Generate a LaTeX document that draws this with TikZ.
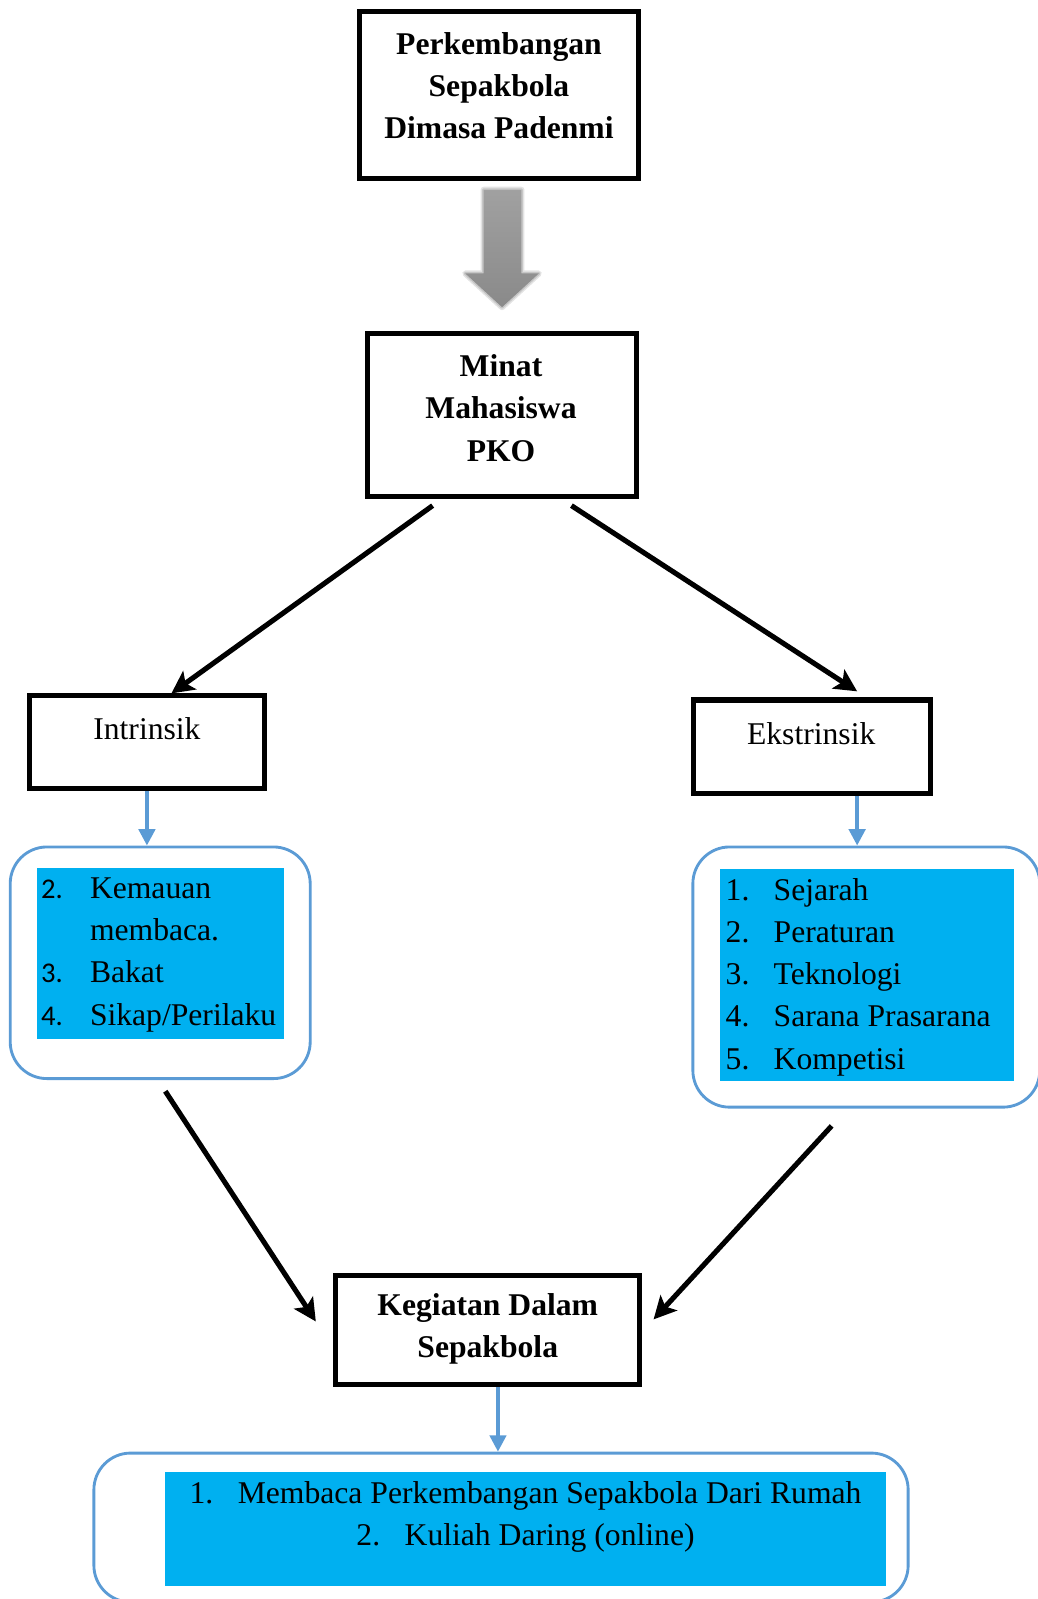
\documentclass[tikz,border=0pt]{standalone}
\usepackage{fontspec}
\setmainfont{Liberation Serif}
\newfontfamily\calfont{Carlito}
\usetikzlibrary{arrows.meta,calc}
\definecolor{outblue}{HTML}{5B9BD5}
\definecolor{cyanfill}{HTML}{00B0F0}
\begin{document}
\begin{tikzpicture}[x=1pt,y=-1pt,
  blkbox/.style={draw=black, line width=5pt, inner sep=0pt},
  blkarrow/.style={draw=black, line width=5pt, -{Stealth[length=22pt,width=22pt,inset=5pt]}},
  bluearrow/.style={draw=outblue, line width=3.5pt, -{Triangle[length=16pt,width=16pt]}},
  roundbox/.style={draw=outblue, line width=2.8pt, rounded corners=36pt, inner sep=0pt},
  fillbox/.style={fill=cyanfill, inner sep=0pt},
  bigtxt/.style={font=\fontsize{31}{41.5}\selectfont\bfseries, align=center, inner sep=0pt},
  smtxt/.style={font=\fontsize{31}{41.5}\selectfont, inner sep=0pt},
  numtxt/.style={font=\fontsize{28}{30}\selectfont\calfont, inner sep=0pt},
  ]
\useasboundingbox (0,0) rectangle (1017.24,1567.02);
\clip (0,0) rectangle (1017.24,1567.02);

% top box
\node[blkbox, minimum width=274pt, minimum height=164pt] (b1) at (489,93) {};
\node[bigtxt] (t1) at (489,84) {Perkembangan\\Sepakbola\\Dimasa Padenmi};

% grey block arrow (soft edges)
\def\greyarrowpath{(474,186) -- (511,186) -- (511,268) -- (528,268) -- (492,301) -- (456,268) -- (474,268) -- cycle}
\draw[gray!22, line width=6pt, line join=round] \greyarrowpath;
\draw[gray!45, line width=3pt, line join=round] \greyarrowpath;
\shade[top color=gray!74, bottom color=gray!92] \greyarrowpath;

% second box
\node[blkbox, minimum width=264pt, minimum height=160pt] (b2) at (492,407) {};
\node[bigtxt] (t2) at (491,400) {Minat\\Mahasiswa\\PKO};

% intrinsik / ekstrinsik
\node[blkbox, minimum width=230pt, minimum height=91pt] (intr) at (144,727.5) {};
\node[smtxt] (tintr) at (144,714) {Intrinsik};
\node[blkbox, minimum width=232pt, minimum height=92pt] (ekst) at (796,732) {};
\node[smtxt] (tekst) at (795,719) {Ekstrinsik};

\draw[blkarrow] ([xshift=-68pt,yshift=-6pt]b2.south) -- ([xshift=24pt]intr.north);
\draw[blkarrow] ([xshift=68pt,yshift=-6pt]b2.south) -- ([xshift=44pt,yshift=6pt]ekst.north);

% left list
\node[roundbox, minimum width=294pt, minimum height=227pt] (ilist) at (157,943.5) {};
\node[fillbox, minimum width=242pt, minimum height=167pt] (ifill) at (157,934.5) {};
\node[numtxt, anchor=base west] (in1) at (40,881) {2.};
\node[smtxt, anchor=base west] (it1) at (88,881) {Kemauan};
\node[smtxt, anchor=base west] (it1b) at (88,922) {membaca.};
\node[numtxt, anchor=base west] (in2) at (40,963) {3.};
\node[smtxt, anchor=base west] (it2) at (88,963) {Bakat};
\node[numtxt, anchor=base west] (in3) at (40,1005) {4.};
\node[smtxt, anchor=base west] (it3) at (88,1005) {Sikap/Perilaku};

\draw[bluearrow] (intr.south) -- (intr.south |- ilist.north);

% right list
\node[roundbox, minimum width=340pt, minimum height=255pt] (elist) at (849,957.5) {};
\node[fillbox, minimum width=288pt, minimum height=207pt] (efill) at (850,955.5) {};
\node[smtxt, anchor=base west] (en1) at (711,882) {1.};
\node[smtxt, anchor=base west] (et1) at (758,882) {Sejarah};
\node[smtxt, anchor=base west] (en2) at (711,924) {2.};
\node[smtxt, anchor=base west] (et2) at (758,924) {Peraturan};
\node[smtxt, anchor=base west] (en3) at (711,965) {3.};
\node[smtxt, anchor=base west] (et3) at (758,965) {Teknologi};
\node[smtxt, anchor=base west] (en4) at (711,1006) {4.};
\node[smtxt, anchor=base west] (et4) at (758,1006) {Sarana Prasarana};
\node[smtxt, anchor=base west] (en5) at (711,1048) {5.};
\node[smtxt, anchor=base west] (et5) at (758,1048) {Kompetisi};

\coordinate (ea) at ([xshift=44pt]ekst.south);
\draw[bluearrow] (ea) -- (ea |- elist.north);

% kegiatan box
\node[blkbox, minimum width=298pt, minimum height=107pt] (keg) at (478,1303.5) {};
\node[bigtxt] (tkeg) at (478,1302.5) {Kegiatan Dalam\\Sepakbola};

\draw[blkarrow] ([xshift=5pt,yshift=-11pt]ilist.south) -- ([xshift=-17pt,yshift=8.5pt]keg.west);
\draw[blkarrow] ([xshift=-34pt,yshift=-17pt]elist.south) -- ([xshift=11pt,yshift=10.5pt]keg.east);

% bottom list
\node[roundbox, minimum width=798pt, minimum height=146pt] (blist) at (491,1497) {};
\node[fillbox, minimum width=706pt, minimum height=111pt] (bfill) at (515,1498.5) {};
\node[smtxt, anchor=base] (bt1) at (515,1473) {1.\hspace{24pt}Membaca Perkembangan Sepakbola Dari Rumah};
\node[smtxt, anchor=base] (bt2) at (515,1515) {2.\hspace{24pt}Kuliah Daring (online)};

\coordinate (ka) at ([xshift=10pt]keg.south);
\draw[bluearrow] (ka) -- (ka |- blist.north);
\end{tikzpicture}
\end{document}
